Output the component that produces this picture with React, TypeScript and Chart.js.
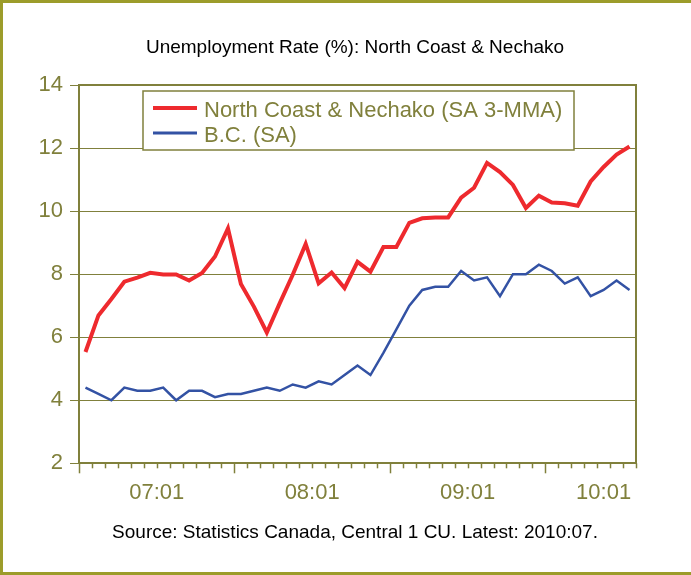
import React, { useEffect, useRef } from "react";
import { Chart, registerables } from "chart.js";

Chart.register(...registerables);

// ---------- data ----------
const months = [
  "2007:01", "2007:02", "2007:03", "2007:04", "2007:05", "2007:06", "2007:07", "2007:08", "2007:09", "2007:10", "2007:11", "2007:12",
  "2008:01", "2008:02", "2008:03", "2008:04", "2008:05", "2008:06", "2008:07", "2008:08", "2008:09", "2008:10", "2008:11", "2008:12",
  "2009:01", "2009:02", "2009:03", "2009:04", "2009:05", "2009:06", "2009:07", "2009:08", "2009:09", "2009:10", "2009:11", "2009:12",
  "2010:01", "2010:02", "2010:03", "2010:04", "2010:05", "2010:06", "2010:07",
];

const northCoast = [
  5.53, 6.69, 7.21, 7.76, 7.89, 8.04, 7.99, 7.99, 7.8, 8.04, 8.56, 9.45,
  7.69, 6.97, 6.15, 7.08, 7.98, 8.96, 7.71, 8.05, 7.56, 8.39, 8.08, 8.86,
  8.86, 9.63, 9.77, 9.8, 9.8, 10.43, 10.74, 11.53, 11.24, 10.83, 10.1, 10.49,
  10.27, 10.25, 10.17, 10.94, 11.4, 11.79, 12.05,
];

const bc = [
  4.4, 4.2, 4.0, 4.4, 4.3, 4.3, 4.4, 4.0, 4.3, 4.3, 4.1, 4.2,
  4.2, 4.3, 4.4, 4.3, 4.5, 4.4, 4.6, 4.5, 4.8, 5.1, 4.8, 5.5,
  6.25, 7.0, 7.5, 7.6, 7.6, 8.1, 7.8, 7.9, 7.3, 8.0, 8.0, 8.3,
  8.1, 7.7, 7.9, 7.3, 7.5, 7.8, 7.5,
];

const seriesLabels = ["North Coast & Nechako (SA 3-MMA)", "B.C. (SA)"];
const xTickLabels = ["07:01", "08:01", "09:01", "10:01"];
const xTickPositions = [5.5, 17.5, 29.5, 40];
const titleText = "Unemployment Rate (%): North Coast & Nechako";
const sourceText = "Source: Statistics Canada, Central 1 CU. Latest: 2010:07.";

// ---------- styles ----------
const OLIVE = "#80803C";
const FRAME = "#9C9C2A";
const RED = "#EE2A2E";
const BLUE = "#3352A4";
const FONT = "'Liberation Sans', Arial, sans-serif";

const framePlugin = {
  id: "frame",
  beforeDraw(chart: any) {
    const { ctx, width, height } = chart;
    ctx.save();
    ctx.fillStyle = "#ffffff";
    ctx.fillRect(0, 0, width, height);
    ctx.strokeStyle = FRAME;
    ctx.lineWidth = 3;
    ctx.beginPath();
    ctx.moveTo(width, 1.5);
    ctx.lineTo(1.5, 1.5);
    ctx.lineTo(1.5, height - 1.5);
    ctx.lineTo(width, height - 1.5);
    ctx.stroke();
    ctx.restore();
  },
  afterDraw(chart: any) {
    const { ctx, chartArea } = chart;
    const xs = chart.scales.x;
    ctx.save();
    ctx.strokeStyle = OLIVE;
    // top border of plot area
    ctx.lineWidth = 2;
    ctx.beginPath();
    ctx.moveTo(chartArea.left - 1, chartArea.top);
    ctx.lineTo(chartArea.right + 1, chartArea.top);
    ctx.stroke();
    // month tick marks on the x axis
    ctx.lineWidth = 1.5;
    for (let k = 0; k <= months.length; k++) {
      const x = Math.round(xs.getPixelForValue(k - 0.5)) + 0.5;
      const len = k % 12 === 0 && k < months.length ? 10 : 5;
      ctx.beginPath();
      ctx.moveTo(x, chartArea.bottom);
      ctx.lineTo(x, chartArea.bottom + len);
      ctx.stroke();
    }
    ctx.restore();
  },
};

const legendPlugin = {
  id: "boxLegend",
  afterDatasetsDraw(chart: any) {
    const { ctx, chartArea } = chart;
    const left = chartArea.left + 64;
    const top = chartArea.top + 6;
    const w = 431;
    const h = 59;
    ctx.save();
    ctx.fillStyle = "#ffffff";
    ctx.fillRect(left, top, w, h);
    ctx.strokeStyle = OLIVE;
    ctx.lineWidth = 1.5;
    ctx.strokeRect(left, top, w, h);
    chart.data.datasets.forEach((ds: any, i: number) => {
      const y = top + 17 + i * 25;
      ctx.strokeStyle = ds.borderColor;
      ctx.lineWidth = Math.max(3, ds.borderWidth);
      ctx.beginPath();
      ctx.moveTo(left + 10, y);
      ctx.lineTo(left + 54, y);
      ctx.stroke();
      ctx.fillStyle = OLIVE;
      ctx.font = `22px ${FONT}`;
      ctx.textBaseline = "middle";
      ctx.textAlign = "left";
      ctx.fillText(ds.label, left + 61, y + 2.5);
    });
    ctx.restore();
  },
};

export default function App() {
  const ref = useRef<HTMLCanvasElement | null>(null);

  useEffect(() => {
    if (!ref.current) return;
    Chart.defaults.font.family = FONT;
    const chart = new Chart(ref.current, {
      type: "line",
      data: {
        datasets: [
          {
            label: seriesLabels[0],
            data: northCoast.map((y, i) => ({ x: i, y })),
            borderColor: RED,
            backgroundColor: RED,
            borderWidth: 4,
            pointRadius: 0,
            tension: 0,
          },
          {
            label: seriesLabels[1],
            data: bc.map((y, i) => ({ x: i, y })),
            borderColor: BLUE,
            backgroundColor: BLUE,
            borderWidth: 2.5,
            pointRadius: 0,
            tension: 0,
          },
        ],
      },
      options: {
        responsive: false,
        animation: false,
        layout: { padding: { left: 19, right: 0, top: 0, bottom: 0 } },
        plugins: {
          legend: { display: false },
          tooltip: { enabled: false },
          title: {
            display: true,
            text: titleText,
            color: "#000000",
            font: { family: FONT, size: 19, weight: "normal" },
            padding: { top: 36, bottom: 26.2 },
          },
          subtitle: {
            display: true,
            position: "bottom",
            text: sourceText,
            color: "#000000",
            font: { family: FONT, size: 19, weight: "normal" },
            padding: { top: 16, bottom: 30.5 },
          },
        },
        scales: {
          x: {
            type: "linear",
            min: -0.5,
            max: months.length - 0.5,
            afterBuildTicks: (s: any) => {
              s.ticks = xTickPositions.map((v) => ({ value: v }));
            },
            afterFit: (s: any) => {
              s.height = 42.4;
            },
            ticks: {
              autoSkip: false,
              maxRotation: 0,
              padding: 16,
              color: OLIVE,
              font: { family: FONT, size: 22 },
              callback: (_v: any, i: number) => xTickLabels[i],
            },
            grid: { display: false, drawTicks: false },
            border: { display: true, color: OLIVE, width: 2 },
          },
          y: {
            min: 2,
            max: 14,
            afterFit: (s: any) => {
              s.width = 60;
            },
            ticks: {
              stepSize: 2,
              padding: 7,
              color: OLIVE,
              font: { family: FONT, size: 22 },
            },
            grid: { color: OLIVE, lineWidth: 1, tickLength: 9, drawTicks: true },
            border: { display: true, color: OLIVE, width: 2 },
          },
          y2: {
            position: "right",
            min: 2,
            max: 14,
            afterFit: (s: any) => {
              s.width = 55;
            },
            ticks: { display: false },
            grid: { display: false, drawTicks: false },
            border: { display: true, color: OLIVE, width: 2 },
          },
        },
      } as any,
      plugins: [framePlugin, legendPlugin],
    });
    return () => chart.destroy();
  }, []);

  return (
    <div style={{ position: "fixed", left: 0, top: 0, width: 691, height: 575, background: "#ffffff" }}>
      <canvas ref={ref} width={691} height={575} style={{ display: "block" }} />
    </div>
  );
}
